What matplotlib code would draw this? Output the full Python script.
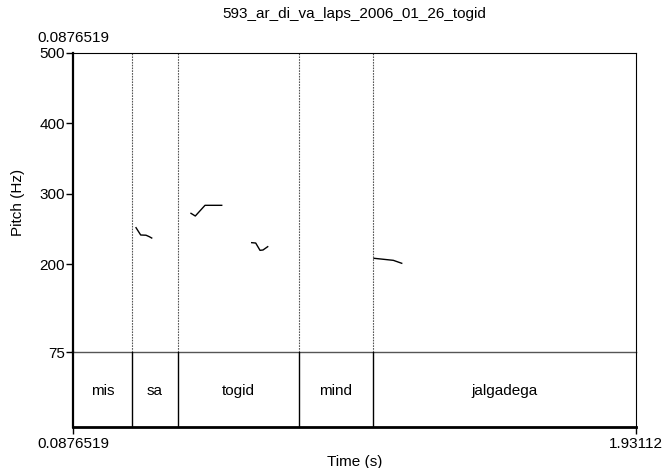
import matplotlib
matplotlib.use('Agg')
import matplotlib.pyplot as plt

plt.rcParams['font.family'] = ['Liberation Sans', 'DejaVu Sans']

# time range of the sound
t_start = 0.0876519
t_end = 1.93112

# word tier
boundaries = [0.2799, 0.4305, 0.8267, 1.0690]
words = ['mis', 'sa', 'togid', 'mind', 'jalgadega']

# pitch contour pieces (time s, Hz)
seg_times = [
    [0.2940, 0.3093, 0.3267, 0.3375, 0.3454],
    [0.4740, 0.4881, 0.5199, 0.5746],
    [0.6728, 0.6859, 0.7000, 0.7098, 0.7252],
    [1.0733, 1.1365, 1.1640],
]
seg_hz = [
    [251.7, 241.3, 241.0, 238.9, 237.0],
    [272.1, 268.3, 283.5, 283.5],
    [230.4, 229.9, 219.5, 220.0, 224.7],
    [208.2, 205.3, 201.1],
]

yticks = [75, 200, 300, 400, 500]
title = '593_ar_di_va_laps_2006_01_26_togid'

fs = 11
W, H = 667, 468
fig = plt.figure(figsize=(W / 100, H / 100), dpi=100)

left, right = 73, 636
top, mid, bot = 53, 352, 427

ax = fig.add_axes([left / W, (H - mid) / H, (right - left) / W, (mid - top) / H])
tier = fig.add_axes([left / W, (H - bot) / H, (right - left) / W, (bot - mid) / H])
tier.patch.set_visible(False)

# pitch panel
for t, f in zip(seg_times, seg_hz):
    ax.plot(t, f, color='black', lw=1.0)
for b in boundaries:
    ax.axvline(b, color='#555555', lw=0.8, ls=(0, (1.5, 1.0)))
ax.set_xlim(t_start, t_end)
ax.set_ylim(75, 500)
ax.set_yticks(yticks)
ax.set_yticklabels([str(v) for v in yticks], fontsize=fs)
ax.tick_params(axis='y', length=5, width=1, pad=1)
ax.set_xticks([])
for s in ['top', 'right']:
    ax.spines[s].set_linewidth(0.8)
ax.spines['left'].set_linewidth(1.6)
ax.spines['bottom'].set_linewidth(1.0)
ax.spines['bottom'].set_color('#555555')
ax.set_ylabel('Pitch (Hz)', fontsize=fs, labelpad=10)
ax.set_title(title, fontsize=fs, pad=25)
ax.annotate('%g' % t_start, xy=(0, 1.0), xycoords='axes fraction',
            xytext=(0, 6), textcoords='offset points', ha='center',
            va='bottom', fontsize=fs, annotation_clip=False)

# text tier
edges = [t_start] + boundaries + [t_end]
for b in boundaries:
    tier.axvline(b, color='black', lw=1.0)
for i, w in enumerate(words):
    tier.text((edges[i] + edges[i + 1]) / 2, 0.48, w, ha='center',
              va='center', fontsize=fs)
tier.set_xlim(t_start, t_end)
tier.set_ylim(0, 1)
tier.set_yticks([])
tier.set_xticks([t_start, t_end])
tier.set_xticklabels(['%g' % t_start, '%g' % t_end], fontsize=fs)
tier.tick_params(axis='x', length=5, width=1, pad=2)
tier.spines['top'].set_visible(False)
tier.spines['left'].set_linewidth(1.6)
tier.spines['bottom'].set_linewidth(2.0)
tier.spines['right'].set_linewidth(0.8)
tier.set_xlabel('Time (s)', fontsize=fs, labelpad=3)

fig.savefig('out.png', dpi=100)
